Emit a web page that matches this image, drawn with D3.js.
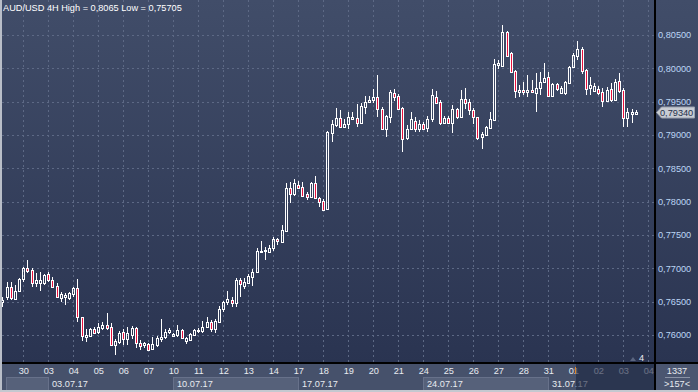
<!DOCTYPE html>
<html>
<head>
<meta charset="utf-8">
<script src="https://cdn.jsdelivr.net/npm/d3@7"></script>
<style>
  html, body { margin: 0; padding: 0; background: #3a4560; overflow: hidden; }
  svg { display: block; font-family: "Liberation Sans", Arial, sans-serif; }
</style>
</head>
<body>
<div id="chart"></div>
<script>
// chart values
const title = "AUD/USD 4H High = 0,8065 Low = 0,75705";
const dayLabels = ["30","03","04","05","06","07","10","11","12","13","14","17","18","19","20","21","24","25","26","27","28","31","01","02","03","04"];
const weekLabels = ["03.07.17","10.07.17","17.07.17","24.07.17","31.07.17"];
const priceTicks = [0.760, 0.765, 0.770, 0.775, 0.780, 0.785, 0.790, 0.795, 0.800, 0.805];
const lastPrice = 0.79340;
const barsCount = "1337";
const barsShown = ">157<";

const open = [
  0.76495,0.76570,0.76720,0.76540,0.76660,0.76840,0.77005,0.76975,0.76780,0.76780,
  0.76780,0.76915,0.76825,0.76735,0.76555,0.76570,0.76555,0.76615,0.76705,0.76270,
  0.75970,0.75985,0.76090,0.76045,0.76105,0.76150,0.76120,0.75850,0.75895,0.76045,
  0.75940,0.76000,0.76105,0.75880,0.75850,0.75865,0.75790,0.75850,0.75940,0.75970,
  0.76045,0.75985,0.76000,0.76075,0.75910,0.75925,0.76000,0.76060,0.76060,0.76120,
  0.76195,0.76090,0.76195,0.76390,0.76495,0.76525,0.76480,0.76825,0.76735,0.76780,
  0.76870,0.76945,0.77245,0.77260,0.77245,0.77305,0.77440,0.77395,0.77560,0.78205,
  0.78115,0.78250,0.78220,0.78115,0.78070,0.78280,0.78055,0.78010,0.77890,0.79030,
  0.79150,0.79255,0.79120,0.79165,0.79240,0.79255,0.79180,0.79420,0.79495,0.79525,
  0.79570,0.79390,0.79090,0.79270,0.79630,0.79585,0.79405,0.78955,0.79090,0.79210,
  0.79090,0.79165,0.79105,0.79240,0.79570,0.79495,0.79180,0.79255,0.79180,0.79390,
  0.79270,0.79540,0.79495,0.79375,0.79270,0.78970,0.79000,0.79105,0.79225,0.80050,
  0.80035,0.80545,0.80230,0.79960,0.79645,0.79675,0.79645,0.79675,0.79630,0.79705,
  0.79795,0.79870,0.79585,0.79765,0.79630,0.79630,0.79780,0.80020,0.80185,0.80290,
  0.79975,0.79705,0.79660,0.79690,0.79645,0.79510,0.79690,0.79525,0.79810,0.79675,
  0.79255,0.79315,0.79315
];
const high = [
  0.76570,0.76795,0.76795,0.76750,0.76855,0.77020,0.77125,0.77005,0.76930,0.76945,
  0.76915,0.76945,0.76870,0.76780,0.76645,0.76630,0.76645,0.76720,0.76840,0.76270,
  0.76090,0.76105,0.76120,0.76180,0.76195,0.76330,0.76180,0.75940,0.76060,0.76090,
  0.76120,0.76135,0.76120,0.75925,0.75895,0.75880,0.75970,0.75985,0.76240,0.76090,
  0.76105,0.76030,0.76150,0.76090,0.75970,0.76030,0.76090,0.76105,0.76210,0.76270,
  0.76225,0.76240,0.76435,0.76510,0.76660,0.76570,0.76855,0.76855,0.76855,0.76915,
  0.76990,0.77305,0.77410,0.77320,0.77350,0.77470,0.77455,0.77650,0.78280,0.78295,
  0.78340,0.78310,0.78295,0.78145,0.78295,0.78385,0.78070,0.78040,0.79060,0.79225,
  0.79405,0.79375,0.79240,0.79345,0.79345,0.79465,0.79480,0.79585,0.79585,0.79690,
  0.79900,0.79420,0.79300,0.79675,0.79690,0.79615,0.79420,0.79150,0.79345,0.79270,
  0.79225,0.79195,0.79285,0.79690,0.79660,0.79525,0.79285,0.79285,0.79450,0.79405,
  0.79675,0.79705,0.79540,0.79405,0.79270,0.79045,0.79135,0.79345,0.80140,0.80125,
  0.80650,0.80560,0.80245,0.79975,0.79750,0.79795,0.79900,0.79825,0.79930,0.79945,
  0.80080,0.79945,0.79780,0.79780,0.79735,0.79810,0.80035,0.80230,0.80410,0.80320,
  0.79990,0.79870,0.79780,0.79735,0.79705,0.79720,0.79780,0.79840,0.79930,0.79705,
  0.79405,0.79390,0.79375
];
const low = [
  0.76420,0.76525,0.76525,0.76525,0.76645,0.76795,0.76930,0.76720,0.76720,0.76660,
  0.76750,0.76795,0.76705,0.76555,0.76495,0.76450,0.76525,0.76570,0.76195,0.75910,
  0.75895,0.75970,0.76015,0.76015,0.76075,0.76075,0.75835,0.75700,0.75865,0.75850,
  0.75850,0.75940,0.75805,0.75775,0.75805,0.75760,0.75775,0.75820,0.75895,0.75940,
  0.76015,0.75970,0.75970,0.75940,0.75865,0.75910,0.75985,0.76030,0.76030,0.76105,
  0.76045,0.76030,0.76195,0.76345,0.76450,0.76420,0.76420,0.76570,0.76690,0.76765,
  0.76735,0.76930,0.77230,0.77125,0.77230,0.77260,0.77350,0.77380,0.77545,0.77980,
  0.78085,0.78190,0.78070,0.78025,0.78070,0.78055,0.77920,0.77860,0.77875,0.78895,
  0.79120,0.79105,0.79105,0.79090,0.79225,0.79120,0.79180,0.79315,0.79480,0.79480,
  0.79270,0.79075,0.78970,0.79180,0.79510,0.79375,0.78745,0.78925,0.79075,0.79045,
  0.79045,0.79075,0.79045,0.79195,0.79465,0.79150,0.79165,0.79165,0.79030,0.79240,
  0.79255,0.79390,0.79300,0.79165,0.78925,0.78790,0.78985,0.79090,0.79210,0.79990,
  0.80020,0.80170,0.79930,0.79555,0.79570,0.79600,0.79570,0.79630,0.79345,0.79600,
  0.79780,0.79570,0.79570,0.79660,0.79630,0.79600,0.79765,0.80005,0.80125,0.79915,
  0.79600,0.79600,0.79645,0.79600,0.79420,0.79495,0.79495,0.79510,0.79630,0.79120,
  0.79120,0.79180,0.79300
];
const close = [
  0.76525,0.76720,0.76555,0.76660,0.76840,0.77005,0.76960,0.76780,0.76825,0.76825,
  0.76900,0.76825,0.76720,0.76570,0.76615,0.76600,0.76630,0.76705,0.76270,0.75985,
  0.76000,0.76090,0.76030,0.76120,0.76150,0.76105,0.75850,0.75910,0.76030,0.75940,
  0.76030,0.76105,0.75880,0.75835,0.75880,0.75775,0.75865,0.75955,0.75970,0.76045,
  0.76075,0.76015,0.76075,0.75955,0.75955,0.76015,0.76075,0.76075,0.76120,0.76195,
  0.76090,0.76210,0.76390,0.76495,0.76540,0.76480,0.76825,0.76765,0.76795,0.76885,
  0.76945,0.77260,0.77260,0.77275,0.77305,0.77440,0.77410,0.77575,0.78205,0.78115,
  0.78280,0.78205,0.78085,0.78070,0.78280,0.78055,0.77995,0.77875,0.79045,0.79165,
  0.79255,0.79120,0.79165,0.79270,0.79270,0.79180,0.79435,0.79495,0.79525,0.79570,
  0.79390,0.79090,0.79285,0.79645,0.79570,0.79390,0.78940,0.79090,0.79240,0.79090,
  0.79165,0.79090,0.79240,0.79600,0.79480,0.79180,0.79255,0.79180,0.79390,0.79270,
  0.79540,0.79480,0.79375,0.79270,0.78955,0.79015,0.79120,0.79240,0.80065,0.80080,
  0.80545,0.80185,0.79945,0.79660,0.79675,0.79645,0.79675,0.79645,0.79705,0.79795,
  0.79855,0.79585,0.79765,0.79690,0.79705,0.79795,0.80020,0.80200,0.80290,0.79960,
  0.79690,0.79750,0.79735,0.79630,0.79510,0.79675,0.79525,0.79795,0.79660,0.79255,
  0.79345,0.79345,0.79340
];

// 6 bars of 4h per trading day, first bar of "30" is bar 5
const barsPerDay = 6;
const firstDayBar = 5;

class CandleChart {
  constructor(_config, _data) {
    this.config = {
      parentElement: _config.parentElement,
      containerWidth: _config.containerWidth || 698,
      containerHeight: _config.containerHeight || 392,
      plotRight: _config.plotRight || 655,
      plotBottom: _config.plotBottom || 363,
      fontSize: _config.fontSize || "9.2px",
      upColor: "none",
      downColor: "#e8103c"
    };
    this.data = _data;
    this.initVis();
  }

  initVis() {
    let vis = this;
    const c = vis.config;

    vis.svg = d3.select(c.parentElement).append("svg")
      .attr("width", c.containerWidth)
      .attr("height", c.containerHeight)
      .attr("font-size", c.fontSize);

    const defs = vis.svg.append("defs");
    const grad = defs.append("linearGradient")
      .attr("id", "bg").attr("x1", 0).attr("y1", 0).attr("x2", 0).attr("y2", 1);
    grad.append("stop").attr("offset", "0%").attr("stop-color", "#414d69");
    grad.append("stop").attr("offset", "100%").attr("stop-color", "#2a3451");

    // background for plot and price panel
    vis.svg.append("rect")
      .attr("width", c.containerWidth).attr("height", c.plotBottom)
      .attr("fill", "url(#bg)");

    // scales: bar index -> x, price -> y
    vis.xScale = d3.scaleLinear()
      .domain([firstDayBar, firstDayBar + barsPerDay * 25])
      .range([23.3, 648.3]);
    vis.yScale = d3.scaleLinear()
      .domain([0.760, 0.805])
      .range([335, 35]);

    vis.dayTicks = dayLabels.map((d, i) => firstDayBar + barsPerDay * i);

    vis.gridG = vis.svg.append("g").attr("class", "grid");
    vis.candleG = vis.svg.append("g").attr("class", "candles");
    vis.axisG = vis.svg.append("g").attr("class", "axes");
  }

  updateVis() {
    let vis = this;
    vis.renderVis();
  }

  renderVis() {
    let vis = this;
    const c = vis.config;
    const x = vis.xScale, y = vis.yScale;

    // dashed grid
    vis.gridG.selectAll(".hgrid")
      .data(priceTicks)
      .join("line")
        .attr("class", "hgrid")
        .attr("x1", 2).attr("x2", c.plotRight)
        .attr("y1", d => Math.round(y(d)) + 0.5)
        .attr("y2", d => Math.round(y(d)) + 0.5);
    vis.gridG.selectAll(".vgrid")
      .data(vis.dayTicks)
      .join("line")
        .attr("class", "vgrid")
        .attr("y1", 0).attr("y2", c.plotBottom)
        .attr("x1", d => Math.round(x(d)) + 0.5)
        .attr("x2", d => Math.round(x(d)) + 0.5);
    vis.gridG.selectAll("line")
      .attr("stroke", "#5d6985")
      .attr("stroke-width", 1)
      .attr("stroke-dasharray", "2,3");

    // candles
    const cx0 = d => Math.round(x(d.i)) - 1;
    const top = d => Math.round(y(Math.max(d.open, d.close)));
    const hgt = d => Math.max(Math.round(y(Math.min(d.open, d.close))) - top(d), 1);

    const candle = vis.candleG.selectAll(".candle")
      .data(vis.data)
      .join("g")
        .attr("class", "candle");

    candle.append("line")
      .attr("x1", d => cx0(d) + 1.5).attr("x2", d => cx0(d) + 1.5)
      .attr("y1", d => Math.round(y(d.high)))
      .attr("y2", d => top(d));
    candle.append("line")
      .attr("x1", d => cx0(d) + 1.5).attr("x2", d => cx0(d) + 1.5)
      .attr("y1", d => top(d) + hgt(d) + 1)
      .attr("y2", d => Math.max(Math.round(y(d.low)), top(d) + hgt(d) + 1));
    candle.selectAll("line")
      .attr("stroke", "#ffffff")
      .attr("stroke-width", 1);

    candle.append("rect")
      .attr("x", d => cx0(d) + 0.5)
      .attr("y", d => top(d) + 0.5)
      .attr("width", 2)
      .attr("height", d => hgt(d))
      .attr("fill", d => d.close < d.open ? c.downColor : c.upColor)
      .attr("stroke", "#ffffff")
      .attr("stroke-width", 1)
      .attr("shape-rendering", "crispEdges");

    vis.renderAxes();
  }

  renderAxes() {
    let vis = this;
    const c = vis.config;
    const x = vis.xScale, y = vis.yScale;
    const g = vis.axisG;
    const W = c.containerWidth, H = c.containerHeight;

    // bottom strip
    g.append("rect")
      .attr("x", 0).attr("y", c.plotBottom)
      .attr("width", c.plotRight).attr("height", H - c.plotBottom)
      .attr("fill", "#46516b");

    // week boxes, every other week shaded
    const weekStarts = weekLabels.map((d, i) => firstDayBar + barsPerDay * (1 + 5 * i));
    const boxes = [{x0: 6, x1: x(weekStarts[0])}];
    for (let i = 1; i < weekStarts.length; i += 2) {
      boxes.push({x0: x(weekStarts[i]), x1: x(weekStarts[i + 1])});
    }
    g.selectAll(".wbox")
      .data(boxes)
      .join("rect")
        .attr("class", "wbox")
        .attr("x", d => Math.round(d.x0) + 0.5)
        .attr("y", 377.5)
        .attr("width", d => Math.round(d.x1 - d.x0))
        .attr("height", 13)
        .attr("fill", "#56617a")
        .attr("stroke", "#67718a");

    g.selectAll(".wlabel")
      .data(weekLabels)
      .join("text")
        .attr("class", "wlabel")
        .attr("x", (d, i) => Math.round(x(weekStarts[i])) + 4)
        .attr("y", 387)
        .attr("fill", "#e8ebf0")
        .text(d => d);

    // x axis, day numbers
    const xAxis = d3.axisBottom(x)
      .tickValues(vis.dayTicks)
      .tickFormat((d, i) => dayLabels[i])
      .tickSize(0)
      .tickPadding(4);
    const xAxisG = g.append("g")
      .attr("transform", `translate(0,${c.plotBottom})`)
      .call(xAxis);
    xAxisG.select(".domain").remove();
    xAxisG.attr("font-size", null).attr("font-family", null);
    xAxisG.selectAll("text").attr("fill", "#e8ebf0");

    // future area is darkened
    const futureX = Math.round(x(firstDayBar + barsPerDay * 22)) + 3;
    g.append("rect")
      .attr("x", futureX).attr("y", c.plotBottom)
      .attr("width", c.plotRight - futureX).attr("height", H - 2 - c.plotBottom)
      .attr("fill", "#1c2540").attr("opacity", 0.62);
    g.append("rect")
      .attr("x", futureX - 1).attr("y", 367).attr("width", 1).attr("height", 7)
      .attr("fill", "#e0862a");

    // price panel
    const yAxis = d3.axisRight(y)
      .tickValues(priceTicks)
      .tickFormat(d => d3.format(".5f")(d).replace(".", ","))
      .tickSize(0)
      .tickPadding(3);
    const yAxisG = g.append("g")
      .attr("transform", `translate(${c.plotRight},0)`)
      .call(yAxis);
    yAxisG.select(".domain").remove();
    yAxisG.attr("font-size", null).attr("font-family", null);
    yAxisG.selectAll("text").attr("fill", "#bcd5f5");

    // last price tag
    const ly = Math.round(y(lastPrice)) + 0.5;
    g.append("path")
      .attr("d", `M${c.plotRight + 1.5},${ly} L${c.plotRight + 6.5},${ly - 5.5} L${W - 3.5},${ly - 5.5} L${W - 3.5},${ly + 5.5} L${c.plotRight + 6.5},${ly + 5.5} Z`)
      .attr("fill", "#c8ccd3")
      .attr("stroke", "#9aa1ad");
    g.append("text")
      .attr("x", c.plotRight + 5).attr("y", ly)
      .attr("dy", "0.35em")
      .attr("fill", "#24304a")
      .text(d3.format(".5f")(lastPrice).replace(".", ","));

    // bars info box
    g.append("rect")
      .attr("x", c.plotRight).attr("y", c.plotBottom)
      .attr("width", W - c.plotRight).attr("height", H - 2 - c.plotBottom)
      .attr("fill", "#4b5670");
    g.append("line")
      .attr("x1", 665).attr("x2", 690).attr("y1", 377.5).attr("y2", 377.5)
      .attr("stroke", "#8a93a6");
    g.append("text")
      .attr("x", 677).attr("y", 374).attr("text-anchor", "middle")
      .attr("fill", "#e8ebf0").text(barsCount);
    g.append("text")
      .attr("x", 677).attr("y", 387).attr("text-anchor", "middle")
      .attr("fill", "#e8ebf0").text(barsShown);

    // small marker bottom right of plot
    g.append("path")
      .attr("d", "M630,361 L636,361 L633,357 Z")
      .attr("fill", "#5a6580");
    g.append("text")
      .attr("x", 639).attr("y", 361)
      .attr("fill", "#e8ebf0").text("4");

    // separators and outer frame
    g.append("rect").attr("x", 0).attr("y", c.plotBottom - 1).attr("width", W).attr("height", 2).attr("fill", "#000");
    g.append("rect").attr("x", c.plotRight - 1).attr("y", 0).attr("width", 2).attr("height", H).attr("fill", "#000");
    g.append("rect").attr("x", 0).attr("y", 0).attr("width", 2).attr("height", H).attr("fill", "#b9bec8");
    g.append("rect").attr("x", 0).attr("y", H - 2).attr("width", W).attr("height", 2).attr("fill", "#c4c8d0");

    // title
    g.append("text")
      .attr("x", 3).attr("y", 11)
      .attr("fill", "#ffffff")
      .text(title);
  }
}

const candles = open.map((o, i) => ({i: i, open: o, high: high[i], low: low[i], close: close[i]}));
const chart = new CandleChart({parentElement: "#chart"}, candles);
chart.updateVis();
</script>
</body>
</html>
